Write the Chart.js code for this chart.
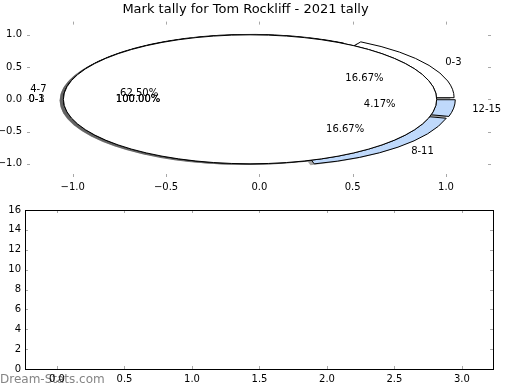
<!DOCTYPE html>
<html><head><meta charset="utf-8">
<script src="https://cdn.jsdelivr.net/npm/chart.js@4/dist/chart.umd.min.js"></script>
<style>
html,body{margin:0;padding:0;background:#fff;}
#wrap{position:relative;width:520px;height:390px;background:#fff;}
canvas{position:absolute;left:0;top:0;}
</style></head><body>
<div id="wrap"><canvas id="top" width="520" height="390"></canvas><canvas id="bot" width="520" height="390"></canvas></div>
<script>
const titleText = 'Mark tally for Tom Rockliff - 2021 tally';
const watermarkText = 'Dream-Stats.com';
const categories = ['0-3', '4-7', '8-11', '12-15'];
const tallies = [4, 15, 4, 1];
const sliceColors = ['#ffffff', '#ffffff', '#bfd9fb', '#bfd9fb'];
const overlayCategories = ['0-3'];
const overlayTallies = [1];
const overlay2Categories = ['0-1'];
const overlay2Tallies = [1];
const overlayColors = ['#ffffff'];
const pieTicks = [-1.0, -0.5, 0.0, 0.5, 1.0];
const pieTickLabels = ['\u22121.0', '\u22120.5', '0.0', '0.5', '1.0'];
const barXTicks = [0, 0.5, 1, 1.5, 2, 2.5, 3];
const barXTickLabels = ['0.0', '0.5', '1.0', '1.5', '2.0', '2.5', '3.0'];
const barYTicks = [0, 2, 4, 6, 8, 10, 12, 14, 16];
const barYTickLabels = ['0', '2', '4', '6', '8', '10', '12', '14', '16'];

const FONT = 'DejaVu Sans';
const TICKCOL = '#a8a8a8';

function wedges(values, explode) {
  const total = values.reduce((a, b) => a + b, 0);
  let a = 0;
  return values.map(v => {
    const frac = v / total;
    const t1 = a, t2 = a + frac * 360;
    a = t2;
    const mid = (t1 + t2) / 2 * Math.PI / 180;
    return {frac, t1, t2, mid, cx: explode * Math.cos(mid), cy: explode * Math.sin(mid)};
  });
}

function wedgePath(ctx, xs, ys, w, dx, dy) {
  const px = xs.getPixelForValue(w.cx + dx), py = ys.getPixelForValue(w.cy + dy);
  const rx = xs.getPixelForValue(1) - xs.getPixelForValue(0);
  const ry = ys.getPixelForValue(0) - ys.getPixelForValue(1);
  ctx.beginPath();
  if (w.frac >= 0.9999) {
    ctx.ellipse(px, py, rx, ry, 0, 0, Math.PI * 2);
  } else {
    ctx.moveTo(px, py);
    ctx.ellipse(px, py, rx, ry, 0, -w.t1 * Math.PI / 180, -w.t2 * Math.PI / 180, true);
    ctx.closePath();
  }
}

function drawTicks(chart, xt, yt, len) {
  const ctx = chart.ctx, a = chart.chartArea, xs = chart.scales.x, ys = chart.scales.y;
  ctx.save();
  ctx.strokeStyle = TICKCOL; ctx.lineWidth = 1;
  ctx.beginPath();
  xt.forEach(v => {
    const x = Math.round(xs.getPixelForValue(v)) + 0.5;
    ctx.moveTo(x, a.bottom); ctx.lineTo(x, a.bottom - len);
    ctx.moveTo(x, a.top); ctx.lineTo(x, a.top + len);
  });
  yt.forEach(v => {
    const y = Math.round(ys.getPixelForValue(v)) + 0.5;
    ctx.moveTo(a.left, y); ctx.lineTo(a.left + len, y);
    ctx.moveTo(a.right, y); ctx.lineTo(a.right - len, y);
  });
  ctx.stroke();
  ctx.restore();
}

const piePlugin = {
  id: 'ellipsePie',
  afterDatasetsDraw(chart) {
    const ctx = chart.ctx, xs = chart.scales.x, ys = chart.scales.y;
    const pies = [
      {w: wedges(tallies, 0.05), cols: sliceColors, labels: categories},
      {w: wedges(overlayTallies, 0.05), cols: overlayColors, labels: overlayCategories},
      {w: wedges(overlay2Tallies, 0.05), cols: overlayColors, labels: overlay2Categories}
    ];
    ctx.save();
    pies.forEach(p => p.w.forEach(w => {
      wedgePath(ctx, xs, ys, w, -0.02, -0.02);
      ctx.fillStyle = 'rgba(77,77,77,0.5)';
      ctx.fill();
    }));
    pies.forEach(p => p.w.forEach((w, i) => {
      wedgePath(ctx, xs, ys, w, 0, 0);
      ctx.fillStyle = p.cols[i];
      ctx.fill();
      ctx.strokeStyle = '#000'; ctx.lineWidth = 1;
      ctx.stroke();
    }));
    ctx.fillStyle = '#000';
    ctx.font = '10px "' + FONT + '"';
    ctx.textBaseline = 'middle';
    pies.forEach(p => p.w.forEach((w, i) => {
      const lx = w.cx + 1.1 * Math.cos(w.mid), ly = w.cy + 1.1 * Math.sin(w.mid);
      ctx.textAlign = lx > 0 ? 'left' : 'right';
      ctx.fillText(p.labels[i], xs.getPixelForValue(lx), ys.getPixelForValue(ly));
      const tx = w.cx + 0.6 * Math.cos(w.mid), ty = w.cy + 0.6 * Math.sin(w.mid);
      ctx.textAlign = 'center';
      ctx.fillText((w.frac * 100).toFixed(2) + '%', xs.getPixelForValue(tx), ys.getPixelForValue(ty));
    }));
    ctx.restore();
    drawTicks(chart, pieTicks, pieTicks, 3);
  }
};

const framePlugin = {
  id: 'frame',
  beforeDraw(chart) {
    const ctx = chart.ctx;
    ctx.save();
    ctx.font = '12px "' + FONT + '"';
    ctx.fillStyle = '#858585';
    ctx.textBaseline = 'middle';
    ctx.textAlign = 'left';
    ctx.fillText(watermarkText, 0, 380);
    ctx.restore();
  },
  afterDatasetsDraw(chart) {
    const ctx = chart.ctx, a = chart.chartArea;
    drawTicks(chart, barXTicks, barYTicks, 3);
    ctx.save();
    ctx.strokeStyle = '#000'; ctx.lineWidth = 1;
    ctx.strokeRect(Math.round(a.left) + 0.5, Math.round(a.top) + 0.5,
      Math.round(a.right - a.left), Math.round(a.bottom - a.top));
    ctx.restore();
  }
};

const tickFont = {family: FONT, size: 10};

new Chart(document.getElementById('top'), {
  type: 'scatter',
  data: {datasets: [{data: []}]},
  plugins: [piePlugin],
  options: {
    responsive: false, animation: false, events: [],
    layout: {padding: {left: 0, right: 29, top: 0, bottom: 0}},
    plugins: {
      legend: {display: false}, tooltip: {enabled: false},
      title: {display: true, text: titleText, color: '#000',
        font: {family: FONT, size: 13, weight: 'normal', lineHeight: 1.2},
        padding: {top: 2, bottom: 4}}
    },
    scales: {
      x: {type: 'linear', min: -1.245, max: 1.241,
        grid: {display: false, drawTicks: false}, border: {display: false},
        afterBuildTicks: s => { s.ticks = pieTicks.map(v => ({value: v})); },
        afterFit: s => { s.height = 390 - 177; },
        ticks: {font: tickFont, color: '#000', padding: 4, maxRotation: 0, autoSkip: false,
          callback: (v, i) => pieTickLabels[i]}},
      y: {type: 'linear', min: -1.205, max: 1.205,
        grid: {display: false, drawTicks: false}, border: {display: false},
        afterBuildTicks: s => { s.ticks = pieTicks.map(v => ({value: v})); },
        afterFit: s => { s.width = 27; },
        ticks: {font: tickFont, color: '#000', padding: 5, autoSkip: false,
          callback: (v, i) => pieTickLabels[i]}}
    }
  }
});

new Chart(document.getElementById('bot'), {
  type: 'scatter',
  data: {datasets: [{data: []}]},
  plugins: [framePlugin],
  options: {
    responsive: false, animation: false, events: [],
    layout: {padding: {left: 0, right: 27, top: 210, bottom: 0}},
    plugins: {legend: {display: false}, tooltip: {enabled: false}, title: {display: false}},
    scales: {
      x: {type: 'linear', min: -0.237, max: 3.23,
        grid: {display: false, drawTicks: false}, border: {display: false},
        afterBuildTicks: s => { s.ticks = barXTicks.map(v => ({value: v})); },
        afterFit: s => { s.height = 21; },
        ticks: {font: tickFont, color: '#000', padding: 4, maxRotation: 0, autoSkip: false,
          callback: (v, i) => barXTickLabels[i]}},
      y: {type: 'linear', min: 0, max: 16,
        grid: {display: false, drawTicks: false}, border: {display: false},
        afterBuildTicks: s => { s.ticks = barYTicks.map(v => ({value: v})); },
        afterFit: s => { s.width = 25; },
        ticks: {font: tickFont, color: '#000', padding: 4, autoSkip: false,
          callback: (v, i) => barYTickLabels[i]}}
    }
  }
});
</script>
</body></html>
